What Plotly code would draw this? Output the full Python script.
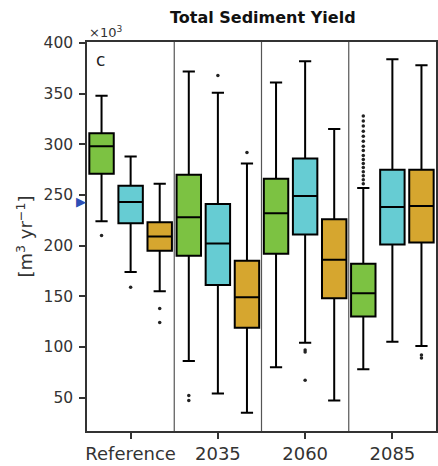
import plotly.graph_objects as go

# Periods on the x axis
periods = ["Reference", "2035", "2060", "2085"]

# Box statistics per series (x10^3 m3/yr), one value per period
green_upper = [348, 372, 361, 257]
green_q3 = [311, 270, 266, 182]
green_median = [298, 228, 232, 153]
green_q1 = [271, 190, 192, 130]
green_lower = [224, 86, 80, 78]

cyan_upper = [288, 351, 382, 384]
cyan_q3 = [259, 241, 286, 275]
cyan_median = [243, 202, 249, 238]
cyan_q1 = [222, 161, 211, 201]
cyan_lower = [174, 54, 104, 105]

gold_upper = [261, 281, 315, 378]
gold_q3 = [223, 185, 226, 275]
gold_median = [209, 149, 186, 239]
gold_q1 = [195, 119, 148, 203]
gold_lower = [155, 35, 47, 101]

# Outliers: (period index, value)
green_outliers = [(0, 210), (1, 52), (1, 47),
                  (3, 261), (3, 265), (3, 269), (3, 273), (3, 277), (3, 281),
                  (3, 285), (3, 289), (3, 294), (3, 298), (3, 303), (3, 308),
                  (3, 313), (3, 318), (3, 323), (3, 328)]
cyan_outliers = [(0, 159), (1, 368), (2, 97), (2, 95), (2, 67)]
gold_outliers = [(0, 138), (0, 124), (1, 292), (3, 92), (3, 89)]

# Observed reference value shown on the y axis
observed_value = 244

series = [
    ("green", "#7CC242", green_upper, green_q3, green_median, green_q1, green_lower, green_outliers),
    ("cyan", "#66CCD3", cyan_upper, cyan_q3, cyan_median, cyan_q1, cyan_lower, cyan_outliers),
    ("gold", "#D6A62F", gold_upper, gold_q3, gold_median, gold_q1, gold_lower, gold_outliers),
]

slot = 1 / 3          # horizontal spacing between series within a period
box_width = 0.28

fig = go.Figure()
for k, (name, color, up, q3, med, q1, lo, outl) in enumerate(series):
    offset = (k - 1) * slot
    xs = [i + offset for i in range(len(periods))]
    fig.add_trace(go.Box(
        x=xs, q1=q1, median=med, q3=q3, lowerfence=lo, upperfence=up,
        width=box_width, fillcolor=color, whiskerwidth=0.5,
        line=dict(color="black", width=2),
        name=name, showlegend=False, hoverinfo="skip",
    ))
    fig.add_trace(go.Scatter(
        x=[i + offset for i, _ in outl], y=[v for _, v in outl],
        mode="markers", marker=dict(color="#222222", size=3.5),
        showlegend=False, hoverinfo="skip",
    ))

# Vertical separators between periods
for b in range(1, len(periods)):
    fig.add_shape(type="line", xref="x", yref="paper", x0=b - 0.5, x1=b - 0.5,
                  y0=0, y1=1, line=dict(color="#555555", width=1.2))

font_family = "DejaVu Sans"
fig.update_layout(
    width=438, height=466,
    margin=dict(l=87, r=0, t=42, b=35),
    paper_bgcolor="white", plot_bgcolor="white",
    font=dict(family=font_family, color="#333333"),
    title=dict(text="<b>Total Sediment Yield</b>", x=0.6, xanchor="center",
               y=0.963, yanchor="middle", font=dict(size=16, color="#111111")),
    xaxis=dict(range=[-0.5, 3.5], tickvals=list(range(len(periods))), ticktext=periods,
               showgrid=False, zeroline=False, showline=True, mirror=True,
               linecolor="#333333", linewidth=1.5, ticks="outside", ticklen=6,
               tickwidth=1.5, tickcolor="#333333", tickfont=dict(size=18)),
    yaxis=dict(range=[17, 401], tickvals=[50, 100, 150, 200, 250, 300, 350, 400],
               showgrid=False, zeroline=False, showline=True, mirror=True,
               linecolor="#333333", linewidth=1.5, ticks="outside", ticklen=6,
               tickwidth=1.5, tickcolor="#333333", tickfont=dict(size=15.5),
               ticklabelstandoff=3,
               title=dict(text="[m<sup>3</sup> yr<sup>−1</sup>]", font=dict(size=18), standoff=6)),
)

# Scale factor label, panel letter and observed-value marker
fig.add_annotation(xref="paper", yref="paper", x=0, y=1, xanchor="left", yanchor="bottom",
                   text="×10<sup>3</sup>", showarrow=False, font=dict(size=13, color="#333333"))
fig.add_annotation(xref="paper", yref="paper", x=0.02, y=0.985, xanchor="left", yanchor="top",
                   text="c", showarrow=False, font=dict(size=17, color="#222222"))
fig.add_annotation(xref="paper", yref="y", x=0, y=observed_value, xanchor="right", yanchor="middle",
                   text="▶", showarrow=False, xshift=1, font=dict(size=13, color="#2E4FB5"))

fig.write_html("out.html")
